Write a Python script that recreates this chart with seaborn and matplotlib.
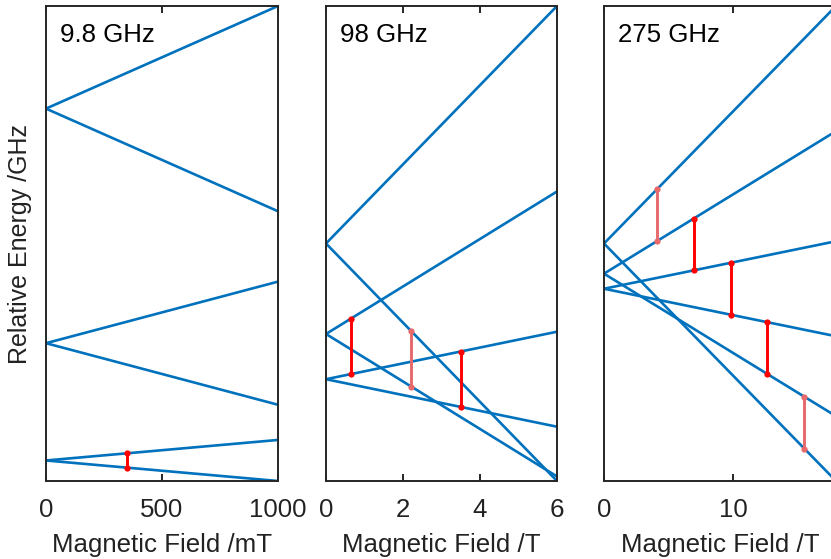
import matplotlib
matplotlib.use("Agg")
import matplotlib.pyplot as plt
import seaborn as sns
import pandas as pd

# ---------------- data ----------------
levels = ["+5/2", "-5/2", "+3/2", "-3/2", "+1/2", "-1/2"]

# panel 1 : 9.8 GHz, field in mT
p1_title = "9.8 GHz"
p1_field = [0, 1000]
p1_E_start = [250, 250, 90, 90, 10, 10]
p1_E_end = [320, 180, 132, 48, 24, -4]
p1_tr_field = [350]
p1_tr_low = [5]
p1_tr_high = [15]
p1_tr_strong = [True]
p1_xticks = [0, 500, 1000]
p1_xlabel = "Magnetic Field /mT"

# panel 2 : 98 GHz, field in T
p2_title = "98 GHz"
p2_field = [0, 6]
p2_E_start = [250, 250, 90, 90, 10, 10]
p2_E_end = [670, -170, 342, -162, 94, -74]
p2_tr_field = [0.64, 2.21, 3.5]
p2_tr_low = [19, -3, -39]
p2_tr_high = [117, 95, 59]
p2_tr_strong = [True, False, True]
p2_xticks = [0, 2, 4, 6]
p2_xlabel = "Magnetic Field /T"

# panel 3 : 275 GHz, field in T
p3_title = "275 GHz"
p3_field = [0, 18]
p3_E_start = [250, 250, 90, 90, 10, 10]
p3_E_end = [1510, -1010, 846, -666, 262, -242]
p3_tr_field = [4.11, 6.96, 9.82, 12.68, 15.54]
p3_tr_low = [263, 107, -128, -443, -838]
p3_tr_high = [538, 382, 148, -168, -563]
p3_tr_strong = [False, True, True, True, False]
p3_xticks = [0, 10]
p3_xlabel = "Magnetic Field /T"

ylabel = "Relative Energy /GHz"

# ---------------- styling ----------------
sns.set_style("white")
plt.rcParams["font.family"] = ["Liberation Sans", "DejaVu Sans"]
FS = 18.6
BLUE = "#0072BD"
RED = "#FF0000"
SALMON = "#E8696B"
SPINE = "#262626"

W, H = 831, 559
fig = plt.figure(figsize=(W / 100, H / 100), dpi=100)


def rect(l, r, t, b):
    return [l / W, (H - b) / H, (r - l) / W, (b - t) / H]


def panel(ax, title, field, e0, e1, trf, trl, trh, trs, xticks, xlabel):
    rows = []
    for lv, a, b in zip(levels, e0, e1):
        rows.append({"field": field[0], "energy": a, "level": lv})
        rows.append({"field": field[1], "energy": b, "level": lv})
    df = pd.DataFrame(rows)
    sns.lineplot(data=df, x="field", y="energy", units="level", estimator=None,
                 color=BLUE, linewidth=1.9, ax=ax, legend=False)
    trows = []
    for i, (f, lo, hi, s) in enumerate(zip(trf, trl, trh, trs)):
        trows.append({"field": f, "energy": lo, "id": i, "strong": s})
        trows.append({"field": f, "energy": hi, "id": i, "strong": s})
    tdf = pd.DataFrame(trows)
    sns.lineplot(data=tdf, x="field", y="energy", units="id", estimator=None,
                 hue="strong", palette={True: RED, False: SALMON},
                 linewidth=2.1, marker="o", markersize=4.5, markeredgewidth=0,
                 ax=ax, legend=False)
    ymin = min(min(e0), min(e1))
    ymax = max(max(e0), max(e1))
    ax.set_xlim(field[0], field[1])
    ax.set_ylim(ymin, ymax)
    ax.set_xticks(xticks)
    ax.set_xticklabels([str(t) for t in xticks], fontsize=FS)
    ax.set_yticks([])
    ax.tick_params(axis="x", direction="in", top=True, bottom=True,
                   length=5, width=1.4, color=SPINE, pad=12, labelcolor="#222222")
    for sp in ax.spines.values():
        sp.set_visible(True)
        sp.set_color(SPINE)
        sp.set_linewidth(1.4)
    ax.set_xlabel(xlabel, fontsize=FS, color="#222222", labelpad=8)
    ax.set_ylabel("")
    ax.text(0.06, 0.924, title, transform=ax.transAxes, fontsize=FS,
            va="baseline", ha="left", color="black")


ax1 = fig.add_axes(rect(46, 278, 6, 481))
ax2 = fig.add_axes(rect(326, 557, 6, 481))
ax3 = fig.add_axes(rect(604, 836, 6, 481))

panel(ax1, p1_title, p1_field, p1_E_start, p1_E_end, p1_tr_field, p1_tr_low,
      p1_tr_high, p1_tr_strong, p1_xticks, p1_xlabel)
panel(ax2, p2_title, p2_field, p2_E_start, p2_E_end, p2_tr_field, p2_tr_low,
      p2_tr_high, p2_tr_strong, p2_xticks, p2_xlabel)
panel(ax3, p3_title, p3_field, p3_E_start, p3_E_end, p3_tr_field, p3_tr_low,
      p3_tr_high, p3_tr_strong, p3_xticks, p3_xlabel)

ax1.set_ylabel(ylabel, fontsize=18, color="#222222", labelpad=10)

fig.savefig("out.png", dpi=100)
